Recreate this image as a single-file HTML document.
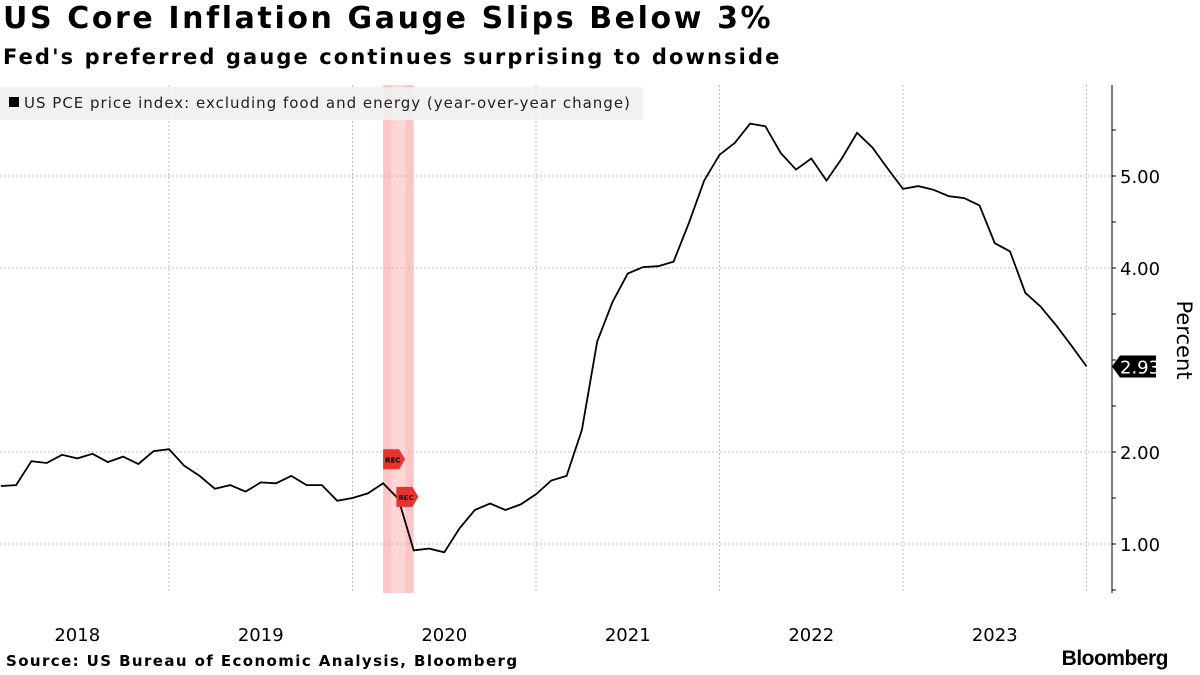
<!DOCTYPE html>
<html><head><meta charset="utf-8"><style>
body{margin:0;width:1200px;height:675px;background:#fff;font-family:"DejaVu Sans","Liberation Sans",sans-serif;overflow:hidden;position:relative}
.t{position:absolute;left:3px;top:1px;font-size:30px;font-weight:bold;color:#000;white-space:nowrap;letter-spacing:2.6px}
.s{position:absolute;left:3px;top:45px;font-size:21px;font-weight:bold;color:#000;white-space:nowrap;letter-spacing:2.1px}
.src{position:absolute;left:6px;top:652px;font-size:15px;font-weight:bold;letter-spacing:1.4px;white-space:nowrap}
.logo{position:absolute;right:32px;top:647px;font-size:21px;font-weight:bold;font-family:"Liberation Sans",sans-serif;letter-spacing:-0.5px}
</style></head><body>
<div class="t">US Core Inflation Gauge Slips Below 3%</div>
<div class="s">Fed's preferred gauge continues surprising to downside</div>
<svg id="c" width="1200" height="675" style="position:absolute;left:0;top:0;font-family:'DejaVu Sans',sans-serif"></svg>
<div class="src">Source: US Bureau of Economic Analysis, Bloomberg</div>
<div class="logo">Bloomberg</div>
<script>
const years=["2018","2019","2020","2021","2022","2023"];
const yTicks=[1,2,4,5];
const values=[1.63,1.64,1.90,1.88,1.97,1.93,1.98,1.89,1.95,1.87,2.01,2.03,
1.85,1.74,1.60,1.64,1.57,1.67,1.66,1.74,1.64,1.64,1.47,1.50,
1.55,1.66,1.49,0.93,0.95,0.91,1.17,1.37,1.44,1.37,1.43,1.54,
1.69,1.74,2.24,3.20,3.63,3.94,4.01,4.02,4.07,4.49,4.95,5.23,
5.36,5.57,5.54,5.25,5.07,5.19,4.95,5.19,5.47,5.31,5.08,4.86,
4.89,4.85,4.78,4.76,4.68,4.27,4.18,3.73,3.58,3.38,3.16,2.93];
const recStart=25, recEnd=27;
const NS="http://www.w3.org/2000/svg";
const svg=document.getElementById('c');
const yearW=183.5, x0=169-yearW;
const X=m=>x0+(m+1)*yearW/12;
const Y=v=>360-(v-3)*92;
function el(t,a,p){const e=document.createElementNS(NS,t);for(const k in a)e.setAttribute(k,a[k]);(p||svg).appendChild(e);return e;}
const band=el('rect',{x:X(recStart),y:85,width:X(recEnd)-X(recStart),height:508,fill:'#ffc4c4'});

el('rect',{x:X(recStart)+8,y:85,width:X(recEnd)-X(recStart)-16,height:508,fill:'#ffd6d6'});
yTicks.forEach(v=>{const g=el('line',{x1:0,x2:1112,y1:Y(v),y2:Y(v),stroke:'#bbb','stroke-dasharray':'2,2'});

const t=el('text',{x:1120,y:Y(v)+7,'font-size':18,fill:'#000'});t.textContent=v.toFixed(2);
});
years.forEach((y,i)=>{const gx=x0+(i+1)*yearW;
if(gx<1112){const g=el('line',{x1:gx,x2:gx,y1:85,y2:593,stroke:'#bbb','stroke-dasharray':'2,2'});
}
const t=el('text',{x:x0+(i+0.5)*yearW,y:641,'font-size':18,'text-anchor':'middle',fill:'#000'});t.textContent=y;
});
const lg=el('rect',{x:0,y:87,width:643,height:33,fill:'#f0f0f0','fill-opacity':0.92});

el('rect',{x:9,y:97,width:10,height:10,fill:'#000'});
const lt=el('text',{x:24,y:108,'font-size':15,fill:'#222','letter-spacing':1});lt.textContent='US PCE price index: excluding food and energy (year-over-year change)';

const ax=el('line',{x1:1112,x2:1112,y1:85,y2:593,stroke:'#000'});
for(let v=0.5;v<=5.9;v+=0.5){if(Y(v)>=85&&Y(v)<=593)el('line',{x1:1112,x2:1116,y1:Y(v),y2:Y(v),stroke:'#000'});}
const yt=el('text',{x:0,y:0,'font-size':21,fill:'#000',transform:'translate(1177,340) rotate(90)','text-anchor':'middle'});yt.textContent='Percent';

const line=el('path',{d:values.map((v,i)=>(i?'L':'M')+X(i).toFixed(1)+','+Y(v).toFixed(1)).join(''),fill:'none',stroke:'#000','stroke-width':1.8});

[[recStart,Y(values[recStart])-24],[recEnd-1,Y(values[recEnd-1])-2]].forEach(([m,yy],k)=>{
const gx=X(m)-(k?2:0);const g=el('g',{});

el('path',{d:`M${gx},${yy-10}h16l6,10l-6,10h-16z`,fill:'#e8322e'},g);
const t=el('text',{x:gx+2,y:yy+3,'font-size':7,'font-weight':'bold',fill:'#000'},g);t.textContent='REC';});
const lv=values[values.length-1],ly=Y(lv);
const cg=el('g',{});
el('path',{d:`M1112,${ly}l8,-11h36v22h-36z`,fill:'#000'},cg);
const ct=el('text',{x:1120,y:ly+7,'font-size':18,fill:'#fff'},cg);ct.textContent=lv.toFixed(2);
</script>
</body></html>
